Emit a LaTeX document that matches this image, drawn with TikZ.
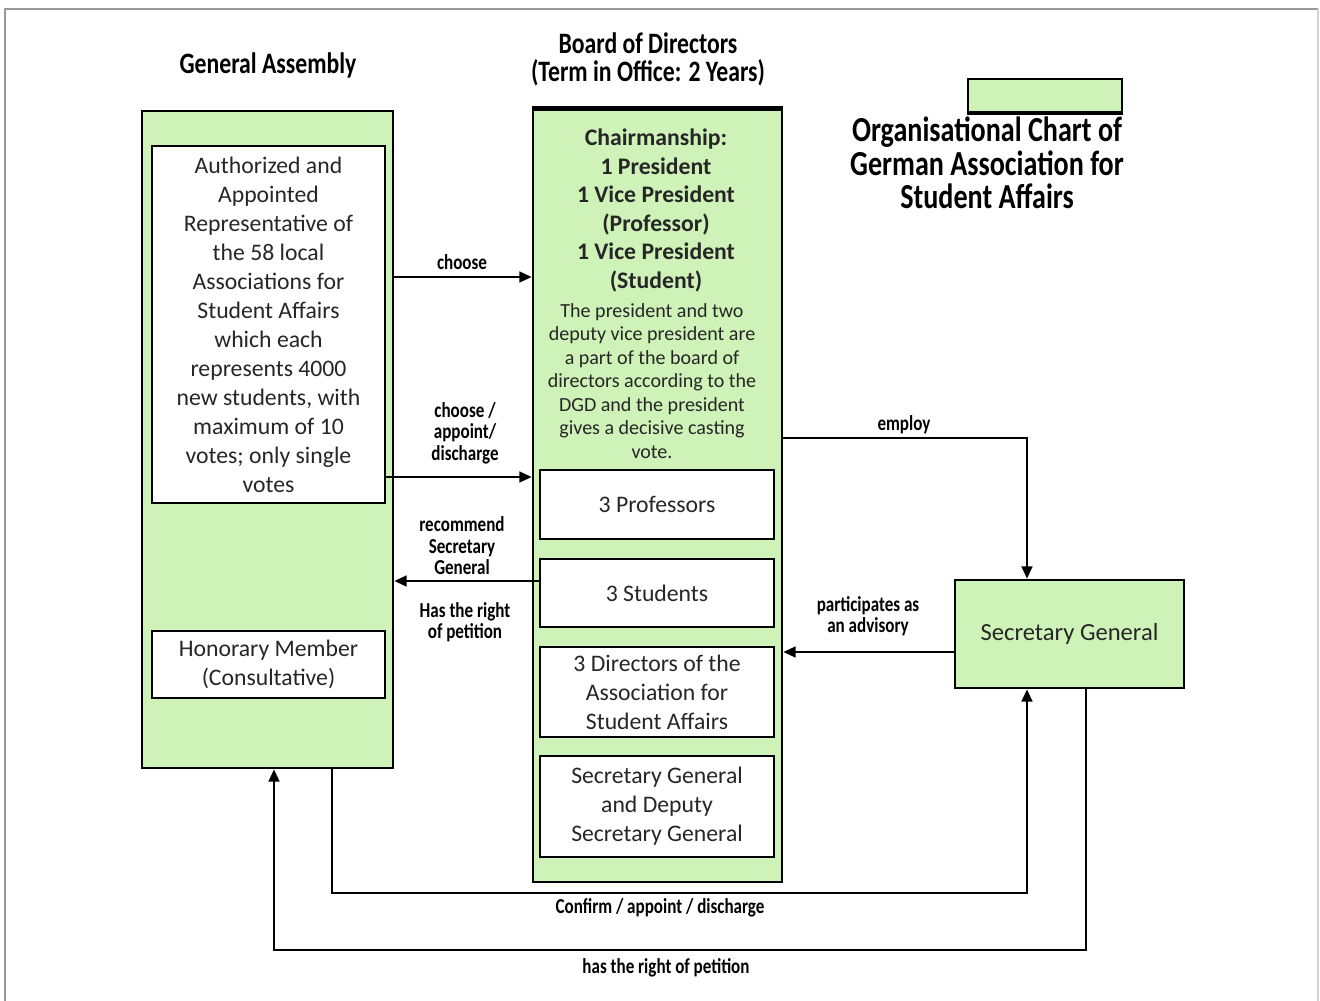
\documentclass[tikz,border=0pt]{standalone}
\usepackage{fontspec}
\setmainfont{Carlito}
\usepackage{graphicx}
\usetikzlibrary{arrows.meta}
\definecolor{boxgreen}{RGB}{206,242,183}
\newcommand\vs[1]{\scalebox{1}[1.25]{#1}}
\begin{document}
\begin{tikzpicture}[x=0.02cm,y=-0.02cm,
  outer/.style={draw=black, line width=1.4pt, fill=boxgreen, inner sep=0pt},
  inbox/.style={draw=black, line width=1.5pt, fill=white, inner sep=0pt, align=center,
    text=black!85, font=\fontsize{13.5}{16.5}\selectfont},
  ttl/.style={font=\bfseries\fontsize{13.5}{16}\selectfont, align=center, inner sep=0pt},
  lbl/.style={font=\bfseries\fontsize{9.7}{12.2}\selectfont, align=center, inner sep=0pt},
  arr/.style={line width=1.5pt, -{Triangle[length=7pt,width=6pt]}}]
\useasboundingbox (0,0) rectangle (1320,1001);
% frame
\draw[gray!80, line width=1pt] (5,1001) -- (5,9) -- (1318,9);
\draw[gray!35, line width=1pt] (1318,9) -- (1318,1001);

% titles
\node[ttl] (gatitle) at (268,65) {\vs{General Assembly}};
\node[ttl] (bdtitle) at (648,59) {\vs{Board of Directors}\\\vs{(Term in Office: 2 Years)}};
\node[outer, line width=1pt, minimum width=154*0.02cm, minimum height=33*0.02cm] (legend) at (1045,95.5) {};
\draw[line width=2.5pt] (legend.south west) -- (legend.south east);
\node[ttl, font=\bfseries\fontsize{16}{19}\selectfont] (charttitle) at (987,163)
  {\vs{Organisational Chart of}\\\vs{German Association for}\\\vs{Student Affairs}};

% General Assembly
\node[outer, minimum width=251*0.02cm, minimum height=657*0.02cm] (GA) at (267.5,439.5) {};
\node[inbox, minimum width=233*0.02cm, minimum height=357*0.02cm] (GAin) at (268.5,324.5)
  {Authorized and\\Appointed\\Representative of\\the 58 local\\Associations for\\Student Affairs\\which each\\represents 4000\\new students, with\\maximum of 10\\votes; only single\\votes};
\node[inbox, minimum width=233*0.02cm, minimum height=67*0.02cm] (hon) at (268.5,664.5)
  {Honorary Member\\(Consultative)};

% Board of Directors
\node[outer, minimum width=249*0.02cm, minimum height=772*0.02cm] (BD) at (657.5,496) {};
\draw[line width=3pt] (BD.north west) -- (BD.north east);
\node[inner sep=0pt, align=center, text=black!85, font=\bfseries\fontsize{13.5}{16.2}\selectfont] (chairA) at (656,210.5)
  {Chairmanship:\\1 President\\1 Vice President\\(Professor)\\1 Vice President\\(Student)};
\node[inner sep=0pt, align=center, text=black!85, font=\fontsize{11.4}{13.4}\selectfont] (chairB) at (652,381)
  {The president and two\\deputy vice president are\\a part of the board of\\directors according to the\\DGD and the president\\gives a decisive casting\\vote.};
\node[inbox, minimum width=234*0.02cm, minimum height=69*0.02cm] (prof) at (657,504.5) {3 Professors};
\node[inbox, minimum width=234*0.02cm, minimum height=68*0.02cm] (stud) at (657,593) {3 Students};
\node[inbox, minimum width=234*0.02cm, minimum height=90*0.02cm] (dir) at (657,692)
  {3 Directors of the\\Association for\\Student Affairs};
\node[inbox, minimum width=234*0.02cm, minimum height=101*0.02cm] (sgd) at (657,806.5)
  {Secretary General\\and Deputy\\Secretary General};

% Secretary General
\node[outer, minimum width=229*0.02cm, minimum height=108*0.02cm, text=black!85,
  font=\fontsize{14}{16.5}\selectfont] (SG) at (1069.5,634) {Secretary General};

% connectors
\draw[arr] (GA.east |- 0,277) -- (BD.west |- 0,277);
\node[lbl] (l1) at (462,262) {\vs{choose}};

\draw[arr] (GAin.east |- 0,477) -- (BD.west |- 0,477);
\node[lbl] (l2) at (465,433) {\vs{choose /}\\\vs{appoint/}\\\vs{discharge}};

\draw[arr] (stud.west |- 0,581) -- (GA.east |- 0,581);
\node[lbl] (l3) at (462,546) {\vs{recommend}\\\vs{Secretary}\\\vs{General}};
\node[lbl] (l4) at (465,622) {\vs{Has the right}\\\vs{of petition}};

\coordinate (c1) at (1027,438);
\draw[arr] (BD.east |- c1) -- (c1) -- (SG.north -| c1);
\node[lbl] (l5) at (904,425) {\vs{employ}};

\draw[arr] (SG.west |- 0,652) -- (BD.east |- 0,652);
\node[lbl] (l6) at (868,616) {\vs{participates as}\\\vs{an advisory}};

\coordinate (c2) at (332,893);
\coordinate (c3) at (1027,893);
\draw[arr] (GA.south -| c2) -- (c2) -- (c3) -- (SG.south -| c3);
\node[lbl] (l7) at (660,908) {\vs{Confirm / appoint / discharge}};

\coordinate (c4) at (1086,950);
\coordinate (c5) at (274,950);
\draw[arr] (SG.south -| c4) -- (c4) -- (c5) -- (GA.south -| c5);
\node[lbl] (l8) at (666,968) {\vs{has the right of petition}};
\end{tikzpicture}
\end{document}
